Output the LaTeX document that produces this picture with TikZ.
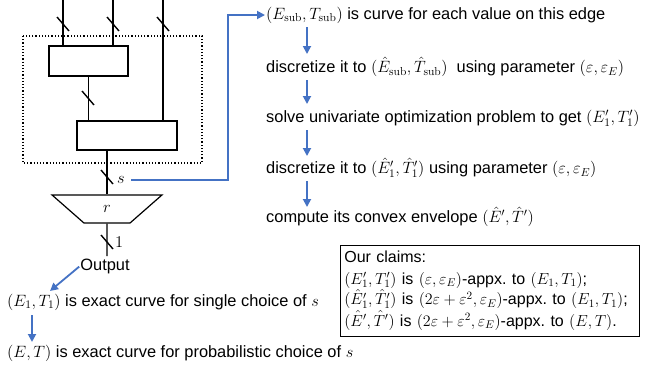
\RequirePackage{fix-cm}
\documentclass[tikz,border=0pt]{standalone}
\usepackage[no-math]{fontspec}
\setmainfont{Liberation Sans}
\usetikzlibrary{positioning, arrows.meta, shapes.geometric}

\definecolor{flowblue}{RGB}{68,114,196}

\tikzset{
  wire/.style={line width=1.4pt},
  blk/.style={draw, line width=1.2pt, minimum width=#1, minimum height=30pt, inner sep=0pt},
  flow/.style={draw=flowblue, line width=1.8pt, -{Triangle[length=8pt,width=8pt]}},
  txt/.style={anchor=west, inner sep=1pt, font=\fontsize{16.4}{19}\selectfont},
}

\newcommand\busmark[1]{\draw[wire] (#1) +(-6,-7) -- +(6,7);}
\frenchspacing

\begin{document}
\begin{tikzpicture}[x=1pt, y=-1pt]
  \useasboundingbox (0,0) rectangle (645,370);

  % circuit
  \draw[line width=1.2pt, dotted] (23,36) rectangle (202,163);
  \node[blk=79pt] (sub) at (88.5,61) {};
  \node[blk=100pt, minimum height=29pt] (join) at (127,135.5) {};
  \node[draw, line width=1.2pt, trapezium, shape border rotate=180,
        trapezium angle=53, trapezium stretches=true,
        minimum width=110pt, minimum height=28pt, inner sep=0pt,
        font=\fontsize{16.4}{19}\selectfont] (rbox) at (107,209) {$r$};

  \coordinate (in1) at (63,0);
  \coordinate (in2) at (113,0);
  \coordinate (in3) at (163,0);
  \coordinate (tail) at (107,256);

  \draw[wire] (in1) -- (in1 |- sub.north);
  \draw[wire] (in2) -- (in2 |- sub.north);
  \draw[wire] (in3) -- (in3 |- join.north);
  \draw[wire] (sub.south) -- (sub.south |- join.north);
  \draw[wire] (rbox.north) -- (rbox.north |- join.south);
  \draw[wire] (rbox.south) -- (tail);

  \busmark{63,24} \busmark{113,24} \busmark{163,24}
  \busmark{88,98}
  \busmark{107,177}
  \busmark{107,242}

  \node[txt] (slab) at (116,180) {$s$};
  \node[txt] (one) at (114,242) {$1$};
  \node[txt, anchor=north] (out) at (105,258) {Output};

  % steps
  \node[txt] (t1) at (265,15) {$(E_{\mathrm{sub}},T_{\mathrm{sub}})$ is curve for each value on this edge};
  \node[txt] (t2) at (265,67) {discretize it to $(\hat E_{\mathrm{sub}},\hat T_{\mathrm{sub}})$\ \ using parameter $(\varepsilon,\varepsilon_E)$};
  \node[txt] (t3) at (265,118) {solve univariate optimization problem to get $(E_1',T_1')$};
  \node[txt] (t4) at (265,168) {discretize it to $(\hat E_1',\hat T_1')$ using parameter $(\varepsilon,\varepsilon_E)$};
  \node[txt] (t5) at (265,217) {compute its convex envelope $(\hat E',\hat T')$};

  \node[txt] (e1) at (6,302) {$(E_1,T_1)$ is exact curve for single choice of $s$};
  \node[txt] (e0) at (6,353) {$(E,T)$ is exact curve for probabilistic choice of $s$};

  \node[draw, line width=0.8pt, anchor=north west, text width=291pt, inner xsep=4pt, inner ysep=6pt,
        align=left, font=\fontsize{16}{21}\selectfont] (claims) at (340,245)
    {Our claims:\\
     $(E_1',T_1')$ is $(\varepsilon,\varepsilon_E)$-appx. to $(E_1,T_1)$;\\
     $(\hat E_1',\hat T_1')$ is $(2\varepsilon+\varepsilon^2,\varepsilon_E)$-appx. to $(E_1,T_1)$;\\
     $(\hat E',\hat T')$ is $(2\varepsilon+\varepsilon^2,\varepsilon_E)$-appx. to $(E,T)$.};

  % arrows
  \coordinate (ax) at (307,0);
  \draw[flow] (131,180) -- (228,180) |- (t1.west);
  \draw[flow] (ax |- 0,27) -- (ax |- 0,54);
  \draw[flow] (ax |- 0,80) -- (ax |- 0,104);
  \draw[flow] (ax |- 0,130) -- (ax |- 0,156);
  \draw[flow] (ax |- 0,181) -- (ax |- 0,207);
  \draw[flow] (out.west) -- (50,291);
  \draw[flow] (32,315) -- (32,342);

\end{tikzpicture}
\end{document}
